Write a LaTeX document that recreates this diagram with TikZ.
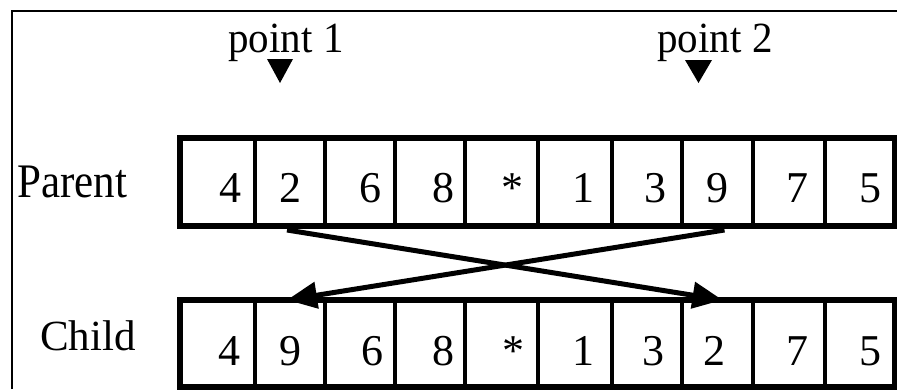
\documentclass[tikz,border=0pt]{standalone}
\usepackage{fontspec}
\setmainfont{Liberation Serif}
\usetikzlibrary{arrows.meta}
\begin{document}
\begin{tikzpicture}[x=1pt,y=-1pt,
  cell/.style={draw, line width=4.5pt, rectangle, inner sep=0pt, outer sep=0pt, minimum height=88pt},
  num/.style={anchor=base, inner sep=0pt, font=\fontsize{44}{48}\selectfont},
  lbl/.style={anchor=base west, inner sep=0pt, font=\fontsize{43}{48}\selectfont},
  ptlbl/.style={anchor=base, inner sep=0pt, font=\fontsize{41}{46}\selectfont},
  marker/.style={fill=black},
  cross/.style={line width=5pt, -{Triangle[length=30pt,width=26pt]}},
  frame/.style={line width=2pt},
  outline/.style={line width=6pt}]
\useasboundingbox (0,0) rectangle (897,389);
% frame
\coordinate (fbl) at (12,389);
\coordinate (ftl) at (12,11);
\coordinate (ftr) at (897,11);
\draw[frame] (fbl) -- (ftl) -- (ftr);
% cells
\foreach \i/\a/\b in {1/180/255,2/255/325,3/325/395,4/395/465,5/465/538,6/538/612,7/612/682,8/682/753,9/753/825,10/825/895}{
  \node[cell, minimum width={\b-\a}] (p\i) at ({(\a+\b)/2},182) {};
  \node[cell, minimum width={\b-\a}, minimum height=87pt] (c\i) at ({(\a+\b)/2},343.5) {};
}
\draw[outline] (p1.north west) rectangle (p10.south east);
\draw[outline] (c1.north west) rectangle (c10.south east);
% numbers
\foreach \i/\x/\t in {1/230/4,2/290/2,3/370/6,4/443/8,5/512/*,6/583/1,7/655/3,8/717/9,9/797/7,10/870/5}{
  \node[num] (np\i) at (\x,202) {\t};
}
\foreach \i/\x/\t in {1/229/4,2/290/9,3/372/6,4/443/8,5/513/*,6/583/1,7/653/3,8/714/2,9/797/7,10/870/5}{
  \node[num] (nc\i) at (\x,365) {\t};
}
% labels
\node[lbl] (parent) at (17,197) {\scalebox{1}[1.12]{Parent}};
\node[lbl] (child) at (40,350) {Child};
\node[ptlbl] (pt1) at (286,52) {\scalebox{1}[1.05]{point 1}};
\node[ptlbl] (pt2) at (715,52) {\scalebox{1}[1.05]{point 2}};
% markers
\fill[marker] (267,59) -- (293,59) -- (280,83) -- cycle;
\fill[marker] (685,60) -- (712,60) -- (698.5,83) -- cycle;
% crossing arrows
\draw[cross] ([xshift=-3pt,yshift=-4pt]p2.south) -- ([xshift=5pt]c8.north);
\draw[cross] ([xshift=7pt,yshift=-4pt]p8.south) -- ([xshift=-3pt]c2.north);
\end{tikzpicture}
\end{document}
